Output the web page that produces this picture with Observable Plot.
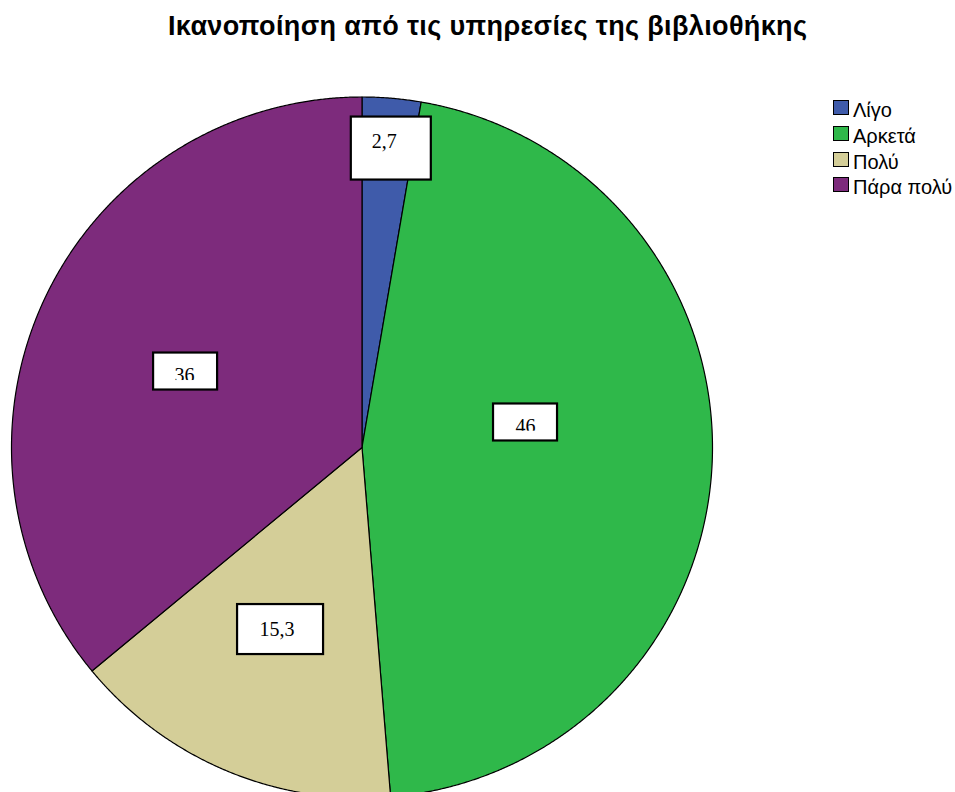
<!DOCTYPE html>
<html>
<head>
<meta charset="utf-8">
<script src="https://cdn.jsdelivr.net/npm/d3@7"></script>
<script src="https://cdn.jsdelivr.net/npm/@observablehq/plot@0.6"></script>
<style>
  html, body { margin: 0; padding: 0; background: #fff; overflow: hidden; }
  #wrap { position: relative; width: 955px; height: 792px; overflow: hidden; background: #fff; }
  #title { position: absolute; left: 168px; top: 13px; white-space: nowrap;
    font-family: "Liberation Sans", Arial, sans-serif; font-weight: bold; font-size: 27px; line-height: 27px; color: #000; }
  #chart { position: absolute; left: 0; top: 60px; }
  #legend { position: absolute; left: 833px; top: 100px; }
  .row { position: absolute; left: 0; height: 20px; width: 140px; }
  .sw { position: absolute; left: 0; top: 0; width: 16px; height: 15px; box-sizing: border-box; border: 1.3px solid #000; }
  .lt { position: absolute; left: 20px; top: 0; white-space: nowrap;
    font-family: "Liberation Sans", Arial, sans-serif; font-size: 20px; line-height: 20px; color: #000; }
</style>
</head>
<body>
<div id="wrap">
  <div id="title"><span id="titleText">Ικανοποίηση από τις υπηρεσίες της βιβλιοθήκης</span></div>
  <div id="chart"></div>
  <div id="legend"></div>
</div>
<script>
// ---- data ----
const categories = ["Λίγο", "Αρκετά", "Πολύ", "Πάρα πολύ"];
const values = [2.7, 46, 15.3, 36];
const valueLabels = ["2,7", "46", "15,3", "36"];
const colors = ["#3F5BAA", "#2FB84A", "#D4CE98", "#7D2B7C"];

// ---- layout (label boxes: polar position in pie-radius units, sizes in px) ----
const labelLayout = [
  {r: 0.857, a: 5.6,   w: 80, h: 63, tdx: -7,   tdy: -1,   cut: null},
  {r: 0.472, a: 81.3,  w: 64, h: 37, tdx: 0,    tdy: 10.5, cut: 8.7},
  {r: 0.569, a: 204.1, w: 86, h: 50, tdx: -3.5, tdy: 6,    cut: null},
  {r: 0.548, a: 293.3, w: 64, h: 37, tdx: -1,   tdy: 10.5, cut: 9}
];

const R = 350.5;          // px per data unit (pie radius)
const cxPx = 361.5, cyPx = 387;

const arcs = d3.pie().sort(null).value(d => d)(values);

// slice polygons
const slices = arcs.map((a, i) => {
  const pts = [{x: 0, y: 0}];
  const n = Math.max(2, Math.ceil((a.endAngle - a.startAngle) / (Math.PI / 720)));
  for (let k = 0; k <= n; k++) {
    const t = a.startAngle + (a.endAngle - a.startAngle) * k / n;
    pts.push({x: Math.sin(t), y: Math.cos(t)});
  }
  return {cat: categories[i], color: colors[i], pts};
});

const labels = categories.map((c, i) => {
  const L = labelLayout[i];
  const ang = L.a * Math.PI / 180;
  const cx = L.r * Math.sin(ang), cy = L.r * Math.cos(ang);
  return {
    text: valueLabels[i], cx, cy,
    x1: cx - L.w / 2 / R, x2: cx + L.w / 2 / R,
    y1: cy - L.h / 2 / R, y2: cy + L.h / 2 / R,
    tx: cx + L.tdx / R, ty: cy - L.tdy / R,
    cut: L.cut,
    cy1: L.cut == null ? null : cy - (L.h / 2 - 1.5) / R,
    cy2: L.cut == null ? null : cy - L.cut / R
  };
});
const cutLabels = labels.filter(d => d.cut != null);

const plot = Plot.plot({
  width: 955,
  height: 732,
  margin: 0,
  x: {domain: [-1, 1], range: [cxPx - R, cxPx + R], axis: null},
  y: {domain: [-1, 1], range: [cyPx + R, cyPx - R], axis: null},
  style: {background: "#fff", overflow: "hidden"},
  marks: [
    ...slices.map(s => Plot.line(s.pts, {
      x: "x", y: "y", fill: s.color, stroke: "#000", strokeWidth: 1.2,
      curve: "linear-closed", strokeLinejoin: "round"
    })),
    Plot.rect(labels, {x1: "x1", x2: "x2", y1: "y1", y2: "y2", fill: "#fff", stroke: "none"}),
    Plot.text(labels, {
      x: "tx", y: "ty", text: "text", textAnchor: "middle", lineAnchor: "bottom",
      fontFamily: "Liberation Serif, Times New Roman, serif", fontSize: 20, fill: "#000"
    }),
    Plot.rect(cutLabels, {x1: "x1", x2: "x2", y1: "cy1", y2: "cy2", fill: "#fff", stroke: "none"}),
    Plot.rect(labels, {x1: "x1", x2: "x2", y1: "y1", y2: "y2", fill: "none", stroke: "#000", strokeWidth: 2.2})
  ]
});
document.getElementById("chart").appendChild(plot);

// legend
const legend = document.getElementById("legend");
categories.forEach((c, i) => {
  const row = document.createElement("div");
  row.className = "row";
  row.style.top = (i * 25.8) + "px";
  const sw = document.createElement("div");
  sw.className = "sw";
  sw.style.background = colors[i];
  const lt = document.createElement("div");
  lt.className = "lt";
  lt.textContent = c;
  row.appendChild(sw);
  row.appendChild(lt);
  legend.appendChild(row);
});

// fit title width to reference extent
const tt = document.getElementById("titleText");
const target = 639;
const w = tt.getBoundingClientRect().width;
const n = tt.textContent.length;
if (n > 1) tt.style.letterSpacing = ((target - w) / (n - 1)) + "px";
</script>
</body>
</html>
